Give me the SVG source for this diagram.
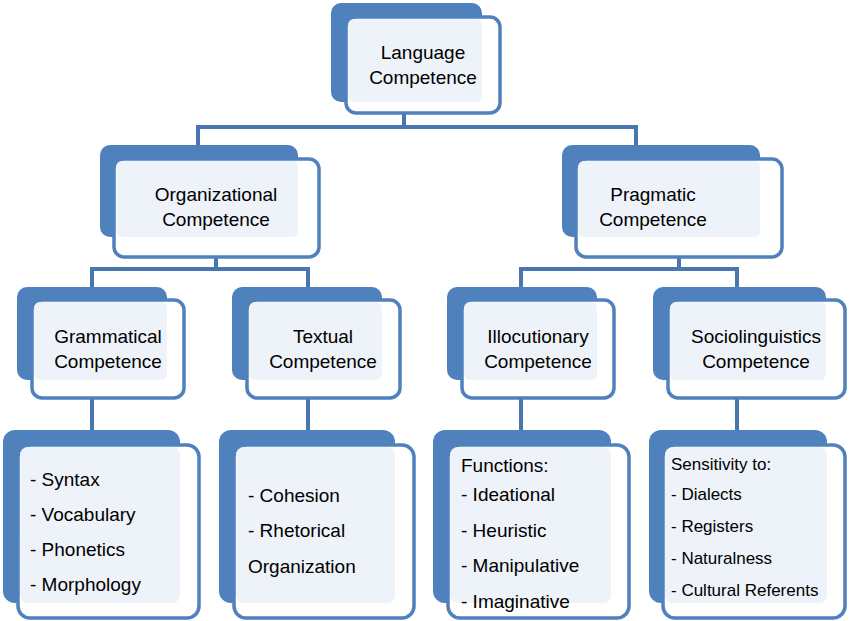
<svg xmlns="http://www.w3.org/2000/svg" width="850" height="621" viewBox="0 0 850 621">
<style>
.bk{fill:#4f81bd}
.fr{fill:#fff;stroke:#4f81bd;stroke-width:3.5}
.lt{fill:#eef2f9}
text{font-family:"Liberation Sans",Arial,sans-serif;font-size:19px;fill:#000}
.c{text-anchor:middle}
.s{font-size:17px}
#connectors path{fill:none;stroke:#4a76b0;stroke-width:4}
</style>
<rect width="850" height="621" fill="#fff"/>
<g id="connectors">
<path d="M404,113V127M198,145V127H636V145"/>
<path d="M216,257V269M92,287V269H308V287"/>
<path d="M679,257V269M521,287V269H737V287"/>
<path d="M92,398V430M308,398V430M521,398V430M737,398V430"/>
</g>
<g id="n1"><rect class="bk" x="331" y="3" width="151" height="99" rx="10"/><rect class="fr" x="346" y="17" width="154" height="96" rx="10"/><rect class="lt" x="348" y="19" width="134" height="83" rx="6"/>
<text class="c" x="423" y="59">Language</text><text class="c" x="423" y="84">Competence</text></g>
<g id="n2"><rect class="bk" x="100" y="145" width="198" height="92" rx="10"/><rect class="fr" x="114" y="159" width="205" height="98" rx="10"/><rect class="lt" x="116" y="161" width="182" height="76" rx="6"/>
<text class="c" x="216" y="201">Organizational</text><text class="c" x="216" y="226">Competence</text></g>
<g id="n3"><rect class="bk" x="562" y="145" width="198" height="92" rx="10"/><rect class="fr" x="576" y="159" width="206" height="98" rx="10"/><rect class="lt" x="578" y="161" width="182" height="76" rx="6"/>
<text class="c" x="653" y="201">Pragmatic</text><text class="c" x="653" y="226">Competence</text></g>
<g id="n4"><rect class="bk" x="17" y="287" width="150" height="93" rx="10"/><rect class="fr" x="32" y="300" width="152" height="98" rx="10"/><rect class="lt" x="34" y="302" width="133" height="78" rx="6"/>
<text class="c" x="108" y="343">Grammatical</text><text class="c" x="108" y="368">Competence</text></g>
<g id="n5"><rect class="bk" x="232" y="287" width="150" height="93" rx="10"/><rect class="fr" x="247" y="300" width="153" height="98" rx="10"/><rect class="lt" x="249" y="302" width="133" height="78" rx="6"/>
<text class="c" x="323" y="343">Textual</text><text class="c" x="323" y="368">Competence</text></g>
<g id="n6"><rect class="bk" x="447" y="287" width="150" height="93" rx="10"/><rect class="fr" x="462" y="300" width="152" height="98" rx="10"/><rect class="lt" x="464" y="302" width="133" height="78" rx="6"/>
<text class="c" x="538" y="343">Illocutionary</text><text class="c" x="538" y="368">Competence</text></g>
<g id="n7"><rect class="bk" x="653" y="287" width="173" height="93" rx="10"/><rect class="fr" x="668" y="300" width="177" height="98" rx="10"/><rect class="lt" x="670" y="302" width="156" height="78" rx="6"/>
<text class="c" x="756" y="343">Sociolinguistics</text><text class="c" x="756" y="368">Competence</text></g>
<g id="n8"><rect class="bk" x="3" y="430" width="177" height="173" rx="12"/><rect class="fr" x="18" y="445" width="181" height="173" rx="12"/><rect class="lt" x="20" y="447" width="160" height="156" rx="8"/>
<text x="30" y="486">- Syntax</text><text x="30" y="521">- Vocabulary</text><text x="30" y="556">- Phonetics</text><text x="30" y="591">- Morphology</text></g>
<g id="n9"><rect class="bk" x="219" y="430" width="176" height="173" rx="12"/><rect class="fr" x="234" y="445" width="180" height="173" rx="12"/><rect class="lt" x="236" y="447" width="159" height="156" rx="8"/>
<text x="248" y="502">- Cohesion</text><text x="248" y="537">- Rhetorical</text><text x="248" y="573">Organization</text></g>
<g id="n10"><rect class="bk" x="433" y="430" width="178" height="173" rx="12"/><rect class="fr" x="448" y="445" width="181" height="173" rx="12"/><rect class="lt" x="450" y="447" width="161" height="156" rx="8"/>
<text x="461" y="472">Functions:</text><text x="461" y="501">- Ideational</text><text x="461" y="537">- Heuristic</text><text x="461" y="572">- Manipulative</text><text x="461" y="608">- Imaginative</text></g>
<g id="n11"><rect class="bk" x="649" y="430" width="178" height="173" rx="12"/><rect class="fr" x="663" y="445" width="182" height="173" rx="12"/><rect class="lt" x="665" y="447" width="162" height="156" rx="8"/>
<text class="s" x="671" y="470">Sensitivity to:</text><text class="s" x="671" y="500">- Dialects</text><text class="s" x="671" y="532">- Registers</text><text class="s" x="671" y="564">- Naturalness</text><text class="s" x="671" y="596">- Cultural Referents</text></g>
</svg>
